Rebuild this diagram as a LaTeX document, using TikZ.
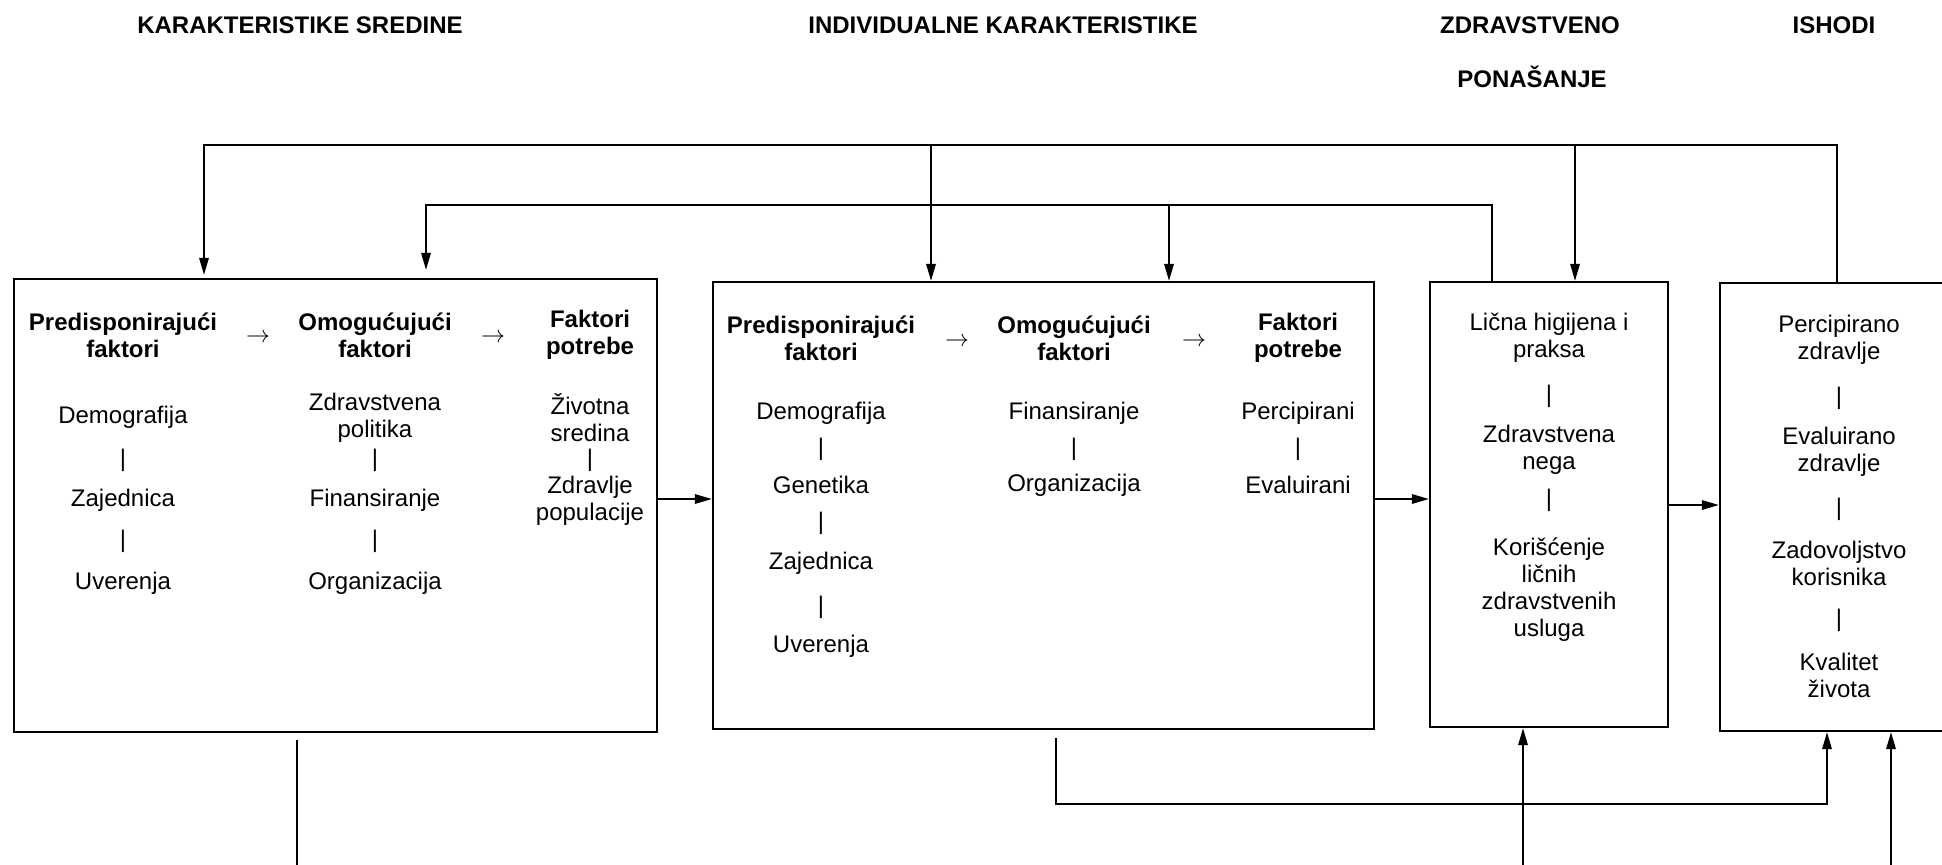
\documentclass[tikz,border=0pt]{standalone}
\usepackage{fontspec}
\setmainfont{Liberation Sans}
\usetikzlibrary{arrows.meta}
\begin{document}
\begin{tikzpicture}[x=0.5pt,y=-0.5pt,
  box/.style={draw,line width=1.2pt,inner sep=0pt,rectangle},
  txt/.style={font=\fontsize{12}{13.5}\selectfont,align=center,inner sep=0pt},
  hd/.style={font=\bfseries\fontsize{12}{13.5}\selectfont,align=center,inner sep=0pt},
  ttl/.style={font=\bfseries\fontsize{12}{14}\selectfont,inner sep=0pt},
  arw/.style={font=\fontsize{12}{12}\selectfont,inner sep=0pt},
  conn/.style={line width=0.7pt},
  arr/.style={-{Triangle[length=8.5pt,width=4.8pt]}}]
\useasboundingbox (0,0) rectangle (1942,864);

% titles
\node[ttl] (tA) at (300,25) {KARAKTERISTIKE SREDINE};
\node[ttl] (tB) at (1003,25) {INDIVIDUALNE KARAKTERISTIKE};
\node[ttl] (tC) at (1530,25) {ZDRAVSTVENO};
\node[ttl] (tD) at (1532,77) {PONAŠANJE};
\node[ttl] (tE) at (1834,25) {ISHODI};

% boxes
\node[box,minimum width=321.5pt,minimum height=226.5pt] (b1) at (335.5,505.5) {};
\node[box,minimum width=330.5pt,minimum height=223.5pt] (b2) at (1043.5,505.5) {};
\node[box,minimum width=119pt,minimum height=222.5pt] (b3) at (1549,504.5) {};
\node[box,minimum width=119pt,minimum height=224pt] (b4) at (1839,507) {};

% box 1 contents
\node[hd] (h11) at (123,335) {Predisponirajući\\faktori};
\node[arw] (a11) at (258,338) {$\rightarrow$};
\node[hd] (h12) at (375,335) {Omogućujući\\faktori};
\node[arw] (a12) at (493,338) {$\rightarrow$};
\node[hd] (h13) at (590,335) {Faktori\\potrebe};
\node[txt] (c11) at (123,417) {Demografija};
\node[txt] (s11) at (123,460) {|};
\node[txt] (c12) at (123,500) {Zajednica};
\node[txt] (s12) at (123,541) {|};
\node[txt] (c13) at (123,583) {Uverenja};
\node[txt] (c21) at (375,418) {Zdravstvena\\politika};
\node[txt] (s21) at (375,460) {|};
\node[txt] (c22) at (375,500) {Finansiranje};
\node[txt] (s22) at (375,541) {|};
\node[txt] (c23) at (375,583) {Organizacija};
\node[txt] (c31) at (590,418) {Životna\\sredina};
\node[txt] (s31) at (590,460) {|};
\node[txt] (c32) at (590,501) {Zdravlje\\populacije};

% box 2 contents
\node[hd] (h21) at (821,338) {Predisponirajući\\faktori};
\node[arw] (a21) at (957,342) {$\rightarrow$};
\node[hd] (h22) at (1074,338) {Omogućujući\\faktori};
\node[arw] (a22) at (1194,342) {$\rightarrow$};
\node[hd] (h23) at (1298,338) {Faktori\\potrebe};
\node[txt] (d11) at (821,413) {Demografija};
\node[txt] (e11) at (821,449) {|};
\node[txt] (d12) at (821,485) {Genetika};
\node[txt] (e12) at (821,523) {|};
\node[txt] (d13) at (821,563) {Zajednica};
\node[txt] (e13) at (821,607) {|};
\node[txt] (d14) at (821,646) {Uverenja};
\node[txt] (d21) at (1074,413) {Finansiranje};
\node[txt] (e21) at (1074,449) {|};
\node[txt] (d22) at (1074,485) {Organizacija};
\node[txt] (d31) at (1298,413) {Percipirani};
\node[txt] (e31) at (1298,449) {|};
\node[txt] (d32) at (1298,485) {Evaluirani};

% box 3 contents
\node[txt] (f1) at (1549,338) {Lična higijena i\\praksa};
\node[txt] (g1) at (1549,396) {|};
\node[txt] (f2) at (1549,450) {Zdravstvena\\nega};
\node[txt] (g2) at (1549,500) {|};
\node[txt] (f3) at (1549,590) {Korišćenje\\ličnih\\zdravstvenih\\usluga};

% box 4 contents
\node[txt] (k1) at (1839,340) {Percipirano\\zdravlje};
\node[txt] (m1) at (1839,398) {|};
\node[txt] (k2) at (1839,452) {Evaluirano\\zdravlje};
\node[txt] (m2) at (1839,509) {|};
\node[txt] (k3) at (1839,563) {Zadovoljstvo\\korisnika};
\node[txt] (m3) at (1839,620) {|};
\node[txt] (k4) at (1839,675) {Kvalitet\\života};

% helper coordinates
\coordinate (yT) at (0,145);
\coordinate (yS) at (0,205);
\coordinate (yB) at (0,804);
\coordinate (yE) at (0,870);
\coordinate (h1) at (0,499);
\coordinate (h2) at (0,499);
\coordinate (h3) at (0,505);
\coordinate (xa) at (204,0);
\coordinate (xb) at (426,0);
\coordinate (xc) at (931,0);
\coordinate (xd) at (1169,0);
\coordinate (xe) at (1492,0);
\coordinate (xf) at (1575,0);
\coordinate (xg) at (1837,0);
\coordinate (xh) at (297,0);
\coordinate (xi) at (1056,0);
\coordinate (xj) at (1827,0);
\coordinate (xk) at (1523,0);
\coordinate (xl) at (1891,0);

% horizontal arrows between boxes
\draw[conn,arr] (b1.east |- h1) -- (b2.west |- h1);
\draw[conn,arr] (b2.east |- h2) -- (b3.west |- h2);
\draw[conn,arr] (b3.east |- h3) -- (b4.west |- h3);

% top feedback lines
\draw[conn,arr,shorten >=1.5pt] (b4.north -| xg) -- (xg |- yT) -- (xa |- yT) -- (b1.north -| xa);
\draw[conn,arr] (xc |- yT) -- (b2.north -| xc);
\draw[conn,arr] (xf |- yT) -- (b3.north -| xf);
\draw[conn,arr,shorten >=4pt] (b3.north -| xe) -- (xe |- yS) -- (xb |- yS) -- (b1.north -| xb);
\draw[conn,arr] (xd |- yS) -- (b2.north -| xd);

% bottom lines
\draw[conn,shorten <=3.5pt] (b1.south -| xh) -- (xh |- yE);
\draw[conn,arr,shorten <=4pt] (b2.south -| xi) -- (xi |- yB) -- (xj |- yB) -- (b4.south -| xj);
\draw[conn,arr] (xk |- yE) -- (b3.south -| xk);
\draw[conn,arr] (xl |- yE) -- (b4.south -| xl);
\end{tikzpicture}
\end{document}
